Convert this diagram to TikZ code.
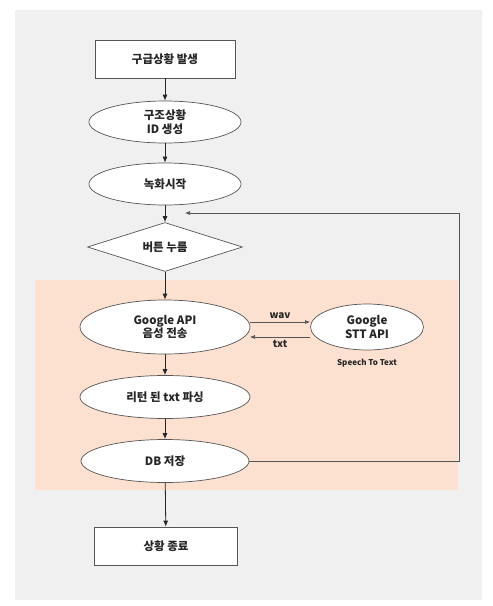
\documentclass[tikz,border=0pt]{standalone}
\usepackage{fontspec}
\setmainfont{Noto Sans CJK KR}
\usetikzlibrary{shapes.geometric,arrows.meta}
\definecolor{bgpanel}{HTML}{F0F0F0}
\definecolor{peach}{HTML}{FCE1D0}
\definecolor{edge}{HTML}{555555}
\tikzset{
  every node/.style={font=\bfseries\fontsize{11.5}{13.5}\selectfont, text=black!85},
  boxnode/.style={draw=edge, fill=white, line width=0.7pt, minimum width=140pt, minimum height=38pt, align=center},
  ellnode/.style={draw=edge, fill=white, ellipse, line width=0.7pt, minimum width=152pt, minimum height=42pt, inner sep=0pt, align=center},
  dianode/.style={draw=edge, fill=white, diamond, aspect=3.1, line width=0.7pt, minimum width=155pt, minimum height=49pt, inner sep=0pt, align=center},
  conn/.style={-{Latex[length=6pt,width=5pt]}, line width=0.8pt, black!85},
  thin conn/.style={-{Latex[length=5pt,width=4pt]}, line width=0.6pt, edge},
}
\begin{document}
\begin{tikzpicture}[x=1pt,y=-1pt]
\useasboundingbox (0,0) rectangle (493,606);
\fill[white] (0,0) rectangle (493,606);
\fill[bgpanel] (15,10) rectangle (482,600);
\fill[peach] (35,280) rectangle (458,490);

\node[boxnode] (a) at (165,59) {구급상황 발생};
\node[ellnode] (b) at (165,122) {구조상황\\ID 생성};
\node[ellnode] (c) at (165,184) {녹화시작};
\node[dianode] (d) at (165,247) {버튼 누름};
\node[ellnode, minimum width=170pt, minimum height=54pt] (e) at (165,327) {Google API\\음성 전송};
\node[ellnode, minimum width=113pt, minimum height=46pt] (g) at (367,327) {Google\\STT API};
\node[font=\bfseries\fontsize{8}{9.5}\selectfont] (st) at (367,363) {Speech To Text};
\node[ellnode, minimum width=170pt, minimum height=43pt] (f) at (165,397) {리턴 된 txt 파싱};
\node[ellnode, minimum width=168pt, minimum height=43pt] (h) at (165,461) {DB 저장};
\node[boxnode, minimum width=143pt] (i) at (166,546) {상황 종료};

\coordinate (jr) at (185,213);
\coordinate (r1) at (459,461);
\coordinate (r2) at (459,213);
\coordinate (w1) at (250,322);
\coordinate (w2) at (310,322);
\coordinate (t1) at (310,337);
\coordinate (t2) at (250,337);

\draw[conn] (a) -- (b);
\draw[conn] (b) -- (c);
\draw[conn] (c) -- (d);
\draw[conn] (d) -- (e);
\draw[conn] (e) -- (f);
\draw[conn] (f) -- (h);
\draw[conn] (h) -- (i);

\draw[thin conn] (w1) -- node[above, font=\bfseries\fontsize{10}{12}\selectfont] (wl) {wav} (w2);
\draw[thin conn] (t1) -- node[below, font=\bfseries\fontsize{10}{12}\selectfont] (tl) {txt} (t2);

\draw[line width=0.8pt, edge] (h.east) -- (r1) -- (r2);
\draw[thin conn] (r2) -- (jr);
\end{tikzpicture}
\end{document}
